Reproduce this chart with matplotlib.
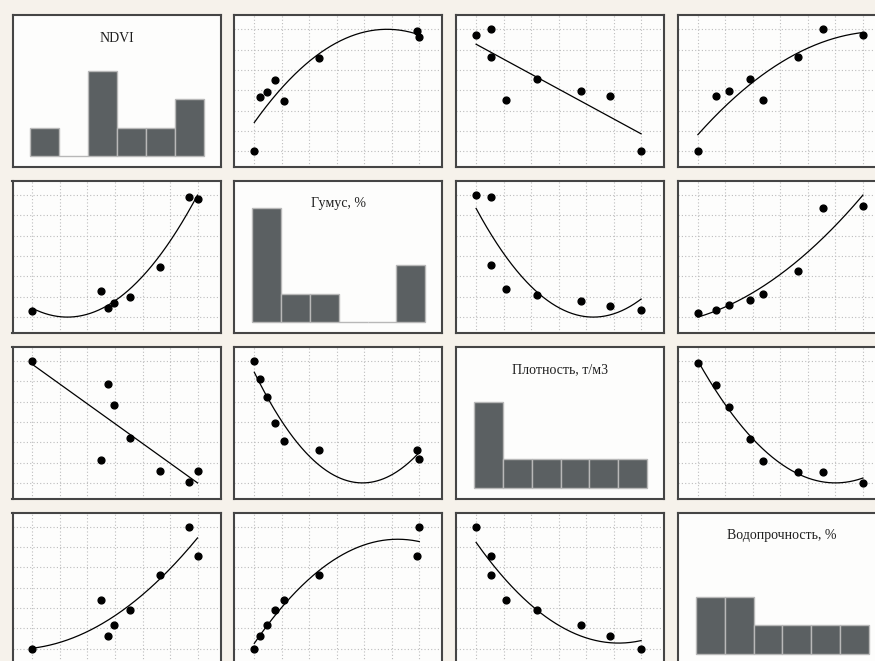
import matplotlib.pyplot as plt
import numpy as np

# Observations (8 plots), one list per indicator
names = ['NDVI', 'Гумус, %', 'Плотность, т/м3', 'Водопрочность, %']
ndvi = [0.320, 0.495, 0.511, 0.528, 0.569, 0.645, 0.719, 0.740]
humus = [2.10, 2.75, 2.22, 2.38, 2.55, 3.51, 5.70, 5.64]
density = [1.400, 1.155, 1.344, 1.290, 1.210, 1.128, 1.100, 1.128]
water_stab = [40.0, 56.6, 44.5, 48.0, 53.2, 65.5, 82.0, 71.9]

data = [ndvi, humus, density, water_stab]
linear_pairs = {(0, 2), (2, 0)}   # NDVI vs density fitted with a straight line

W, H = 875, 661
fig = plt.figure(figsize=(W / 100, H / 100), dpi=100, facecolor='#f6f2eb')

pw, ph = 208, 152
lefts = [12.5 + 221.8 * j for j in range(4)]
tops = [15.3 + 165.8 * i for i in range(4)]
px_per_count = 28.5

for i in range(4):
    for j in range(4):
        ax = fig.add_axes([lefts[j] / W, 1 - (tops[i] + ph) / H, pw / W, ph / H])
        ax.set_facecolor('#fdfdfc')
        for s in ax.spines.values():
            s.set_color('#454545')
            s.set_linewidth(1.5)
        ax.tick_params(length=0, labelbottom=False, labelleft=False)

        if i == j:
            vals = np.array(data[i])
            ax.hist(vals, bins=6, color='#5b6062', edgecolor='#b8b8b8', linewidth=1)
            lo, hi = vals.min(), vals.max()
            span = hi - lo
            ax.set_xlim(lo - 18 / 173 * span, hi + 17 / 173 * span)
            ax.set_ylim(-11 / px_per_count, (ph - 11) / px_per_count)
            ax.set_xticks([])
            ax.set_yticks([])
            ax.text(0.5, 0.85, names[i], transform=ax.transAxes, ha='center', va='center',
                    family='Liberation Serif', fontsize=10, color='#1e1e1e')
            continue

        x = np.array(data[j])
        y = np.array(data[i])
        deg = 1 if (i, j) in linear_pairs else 2
        coef = np.polyfit(x, y, deg)
        xs = np.linspace(x.min(), x.max(), 200)
        ys = np.polyval(coef, xs)

        x0, x1 = x.min(), x.max()
        y0, y1 = min(y.min(), ys.min()), max(y.max(), ys.max())
        ax.set_xticks(np.linspace(x0, x1, 7))
        ax.set_yticks(np.linspace(y0, y1, 7))
        ax.grid(True, linestyle=(0, (1, 2)), color='#bdbdbd', linewidth=0.8)
        ax.set_axisbelow(True)

        ax.plot(xs, ys, color='black', linewidth=0.9)
        ax.scatter(x, y, s=24, color='black', zorder=3)

        xr, yr = x1 - x0, y1 - y0
        ax.set_xlim(x0 - 20 / 165 * xr, x1 + 23 / 165 * xr)
        ax.set_ylim(y0 - 16 / 122 * yr, y1 + 14 / 122 * yr)

fig.savefig('out.png', dpi=100, facecolor=fig.get_facecolor())
